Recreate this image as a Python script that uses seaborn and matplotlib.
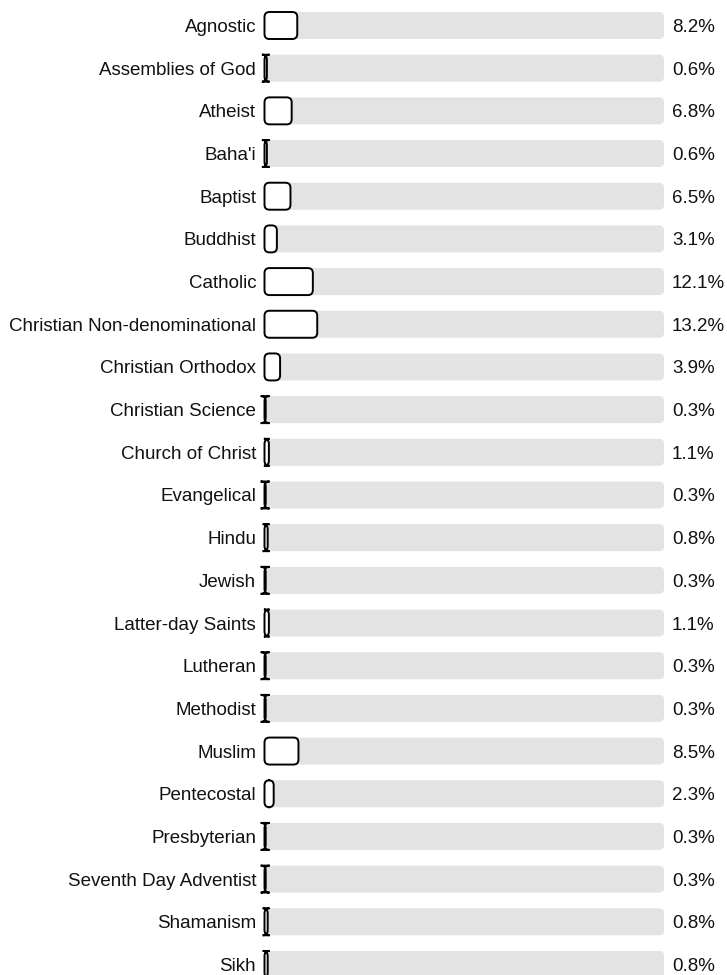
import matplotlib
matplotlib.use("Agg")
import matplotlib.pyplot as plt
import seaborn as sns
import pandas as pd
from matplotlib.patches import FancyBboxPatch

religions = [
    "Agnostic", "Assemblies of God", "Atheist", "Baha'i", "Baptist", "Buddhist",
    "Catholic", "Christian Non-denominational", "Christian Orthodox",
    "Christian Science", "Church of Christ", "Evangelical", "Hindu", "Jewish",
    "Latter-day Saints", "Lutheran", "Methodist", "Muslim", "Pentecostal",
    "Presbyterian", "Seventh Day Adventist", "Shamanism", "Sikh",
]
shares = [8.2, 0.6, 6.8, 0.6, 6.5, 3.1, 12.1, 13.2, 3.9, 0.3, 1.1, 0.3, 0.8,
          0.3, 1.1, 0.3, 0.3, 8.5, 2.3, 0.3, 0.3, 0.8, 0.8]

df = pd.DataFrame({"religion": religions, "share": shares, "full": 100})

sns.set_theme(style="white")
plt.rcParams["font.family"] = ["Liberation Sans", "DejaVu Sans"]

W, H = 727, 975
row_px = 42.68
top_px = 25.5
bar_h = 27 / row_px
x0_px, x1_px = 264.5, 664.0

fig = plt.figure(figsize=(W / 100, H / 100), dpi=100)
ax = fig.add_axes([x0_px / W, 0, (x1_px - x0_px) / W, 1])
ax.patch.set_alpha(0)

sns.barplot(data=df, x="full", y="religion", color="#e3e3e3", saturation=1,
            width=bar_h, ax=ax)
sns.barplot(data=df, x="share", y="religion", color="white", saturation=1,
            width=bar_h, ax=ax)

ax.set_xlim(0, 100)
ax.set_ylim((H - top_px) / row_px, -top_px / row_px)

# swap plain rectangles for rounded ones (5 px corners)
px_x = (x1_px - x0_px) / 100
aspect = px_x / row_px
r = 5 / px_x
bars = list(ax.patches)
n = len(religions)
for k, p in enumerate(bars):
    x, y = p.get_x(), p.get_y()
    w, h = p.get_width(), p.get_height()
    fg = k >= n
    p.remove()
    ax.add_patch(FancyBboxPatch(
        (x, y), w, h,
        boxstyle=f"round,pad=0,rounding_size={r}",
        mutation_aspect=aspect,
        facecolor="white" if fg else "#e3e3e3",
        edgecolor="black" if fg else "none",
        linewidth=1.4 if fg else 0,
        clip_on=False, zorder=3 if fg else 2,
    ))

for i, v in enumerate(shares):
    ax.annotate(f"{v}%", xy=(100, i), xytext=(8, 0), textcoords="offset pixels",
                ha="left", va="center_baseline", fontsize=13.5, color="#111111")

ax.set_xlabel("")
ax.set_ylabel("")
ax.set_xticks([])
ax.tick_params(axis="y", length=0, pad=6, labelsize=13.5, labelcolor="#111111")
sns.despine(ax=ax, left=True, bottom=True)

fig.savefig("out.png", dpi=100)
